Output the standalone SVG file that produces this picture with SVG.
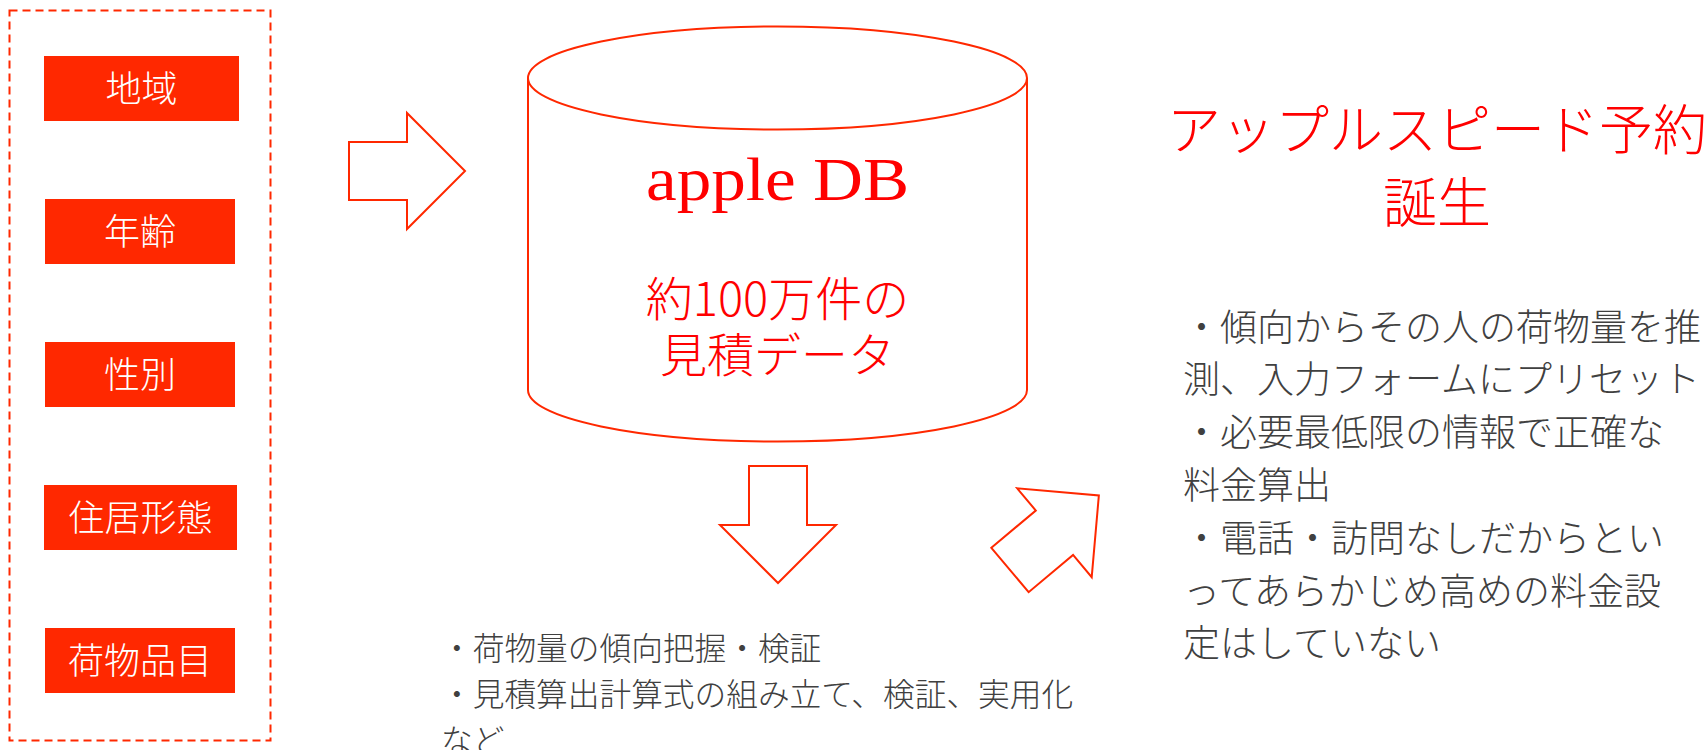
<svg xmlns="http://www.w3.org/2000/svg" width="1707" height="750" viewBox="0 0 1707 750">
<style>
.lbl{fill:#FF2800}
.lt{font-family:"Noto Sans CJK JP","Noto Sans",sans-serif;font-weight:300;fill:#FFFFFF;font-size:36px;text-anchor:middle}
.shape{fill:none;stroke:#FF2800;stroke-width:2}
.arrow{fill:#FFFFFF;stroke:#FF2800;stroke-width:2;stroke-linejoin:miter}
.red{font-family:"Noto Sans CJK JP","Noto Sans",sans-serif;font-weight:300;fill:#FF0000;text-anchor:middle}
.body{font-family:"Noto Sans CJK JP","Noto Sans",sans-serif;font-weight:300;fill:#404040}
</style>
<rect width="1707" height="750" fill="#FFFFFF"/>
<g id="group-box">
<rect x="9.5" y="10.5" width="261" height="730" fill="none" stroke="#FF2800" stroke-width="2" stroke-dasharray="8,5"/>
</g>
<g id="node-chiiki">
<rect class="lbl" x="44" y="56" width="195" height="65"/>
<text class="lt" x="141.5" y="101.5">地域</text>
</g>
<g id="node-nenrei">
<rect class="lbl" x="45" y="199" width="190" height="65"/>
<text class="lt" x="140" y="244.5">年齢</text>
</g>
<g id="node-seibetsu">
<rect class="lbl" x="45" y="342" width="190" height="65"/>
<text class="lt" x="140" y="387.5">性別</text>
</g>
<g id="node-jukyo">
<rect class="lbl" x="44" y="485" width="193" height="65"/>
<text class="lt" x="140.5" y="530.5">住居形態</text>
</g>
<g id="node-nimotsu">
<rect class="lbl" x="45" y="628" width="190" height="65"/>
<text class="lt" x="140" y="673.5">荷物品目</text>
</g>
<g id="node-db">
<path class="shape" d="M528,78 L528,390 A249.5,51.5 0 0 0 1027,390 L1027,78"/>
<ellipse class="shape" cx="777.5" cy="78" rx="249.5" ry="51.5"/>
<text x="777.5" y="200" font-family="'Liberation Serif','DejaVu Serif',serif" font-size="62" fill="#FF0000" text-anchor="middle" textLength="263" lengthAdjust="spacingAndGlyphs">apple DB</text>
<text class="red" x="777.5" y="316" font-size="47">約100万件の</text>
<text class="red" x="777.5" y="372" font-size="47">見積データ</text>
</g>
<g id="node-title">
<text class="red" x="1437" y="150" font-size="54">アップルスピード予約</text>
<text class="red" x="1437" y="223" font-size="54">誕生</text>
</g>
<g id="node-right-text" class="body" font-size="37">
<text x="1183" y="341">・傾向からその人の荷物量を推</text>
<text x="1183" y="393">測、入力フォームにプリセット</text>
<text x="1183" y="446">・必要最低限の情報で正確な</text>
<text x="1183" y="499">料金算出</text>
<text x="1183" y="552">・電話・訪問なしだからとい</text>
<text x="1183" y="605">ってあらかじめ高めの料金設</text>
<text x="1183" y="657">定はしていない</text>
</g>
<g id="node-bottom-text" class="body" font-size="31.7">
<text x="441" y="660">・荷物量の傾向把握・検証</text>
<text x="441" y="706">・見積算出計算式の組み立て、検証、実用化</text>
<text x="441" y="752">など</text>
</g>
<g id="connectors">
<polygon class="arrow" points="349,142 407,142 407,113 465,171 407,229 407,200 349,200"/>
<polygon class="arrow" points="749,466 807,466 807,525 836,525 778,583 720,525 749,525"/>
<polygon class="arrow" transform="translate(1010,570) rotate(-40)" points="0,-29 58,-29 58,-58 116,0 58,58 58,29 0,29"/>
</g>
</svg>
